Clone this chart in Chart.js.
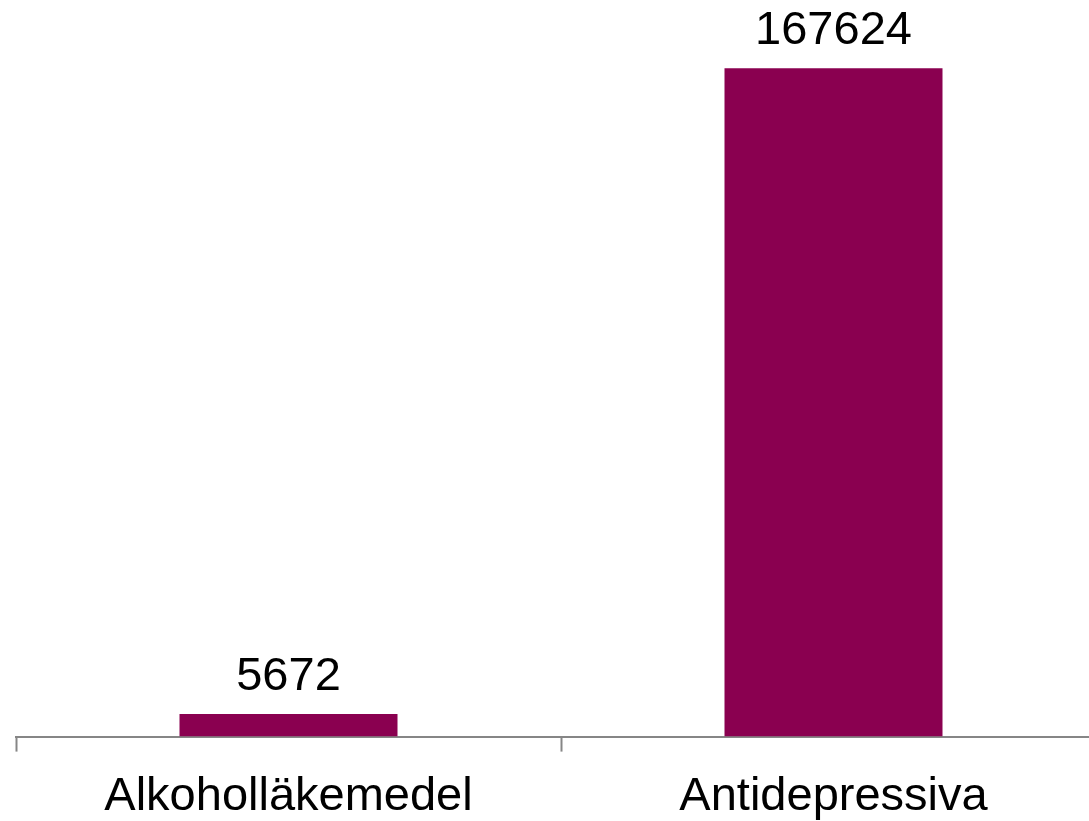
<!DOCTYPE html>
<html>
<head>
<meta charset="utf-8">
<script src="https://cdn.jsdelivr.net/npm/chart.js@4/dist/chart.umd.min.js"></script>
<style>
  html, body { margin: 0; padding: 0; background: #ffffff; overflow: hidden; }
  #wrap { position: relative; width: 1106px; height: 843px; }
</style>
</head>
<body>
<div id="wrap"><canvas id="chart"></canvas></div>
<script>
// Categories and values
const categories = ['Alkoholläkemedel', 'Antidepressiva'];
const values = [5672, 167624];

const barColor = '#8A0050';
const fontFamily = '"Liberation Sans", Arial, sans-serif';

// Writes each bar's value centred above it
const valueLabels = {
  id: 'valueLabels',
  afterDatasetsDraw(chart) {
    const ctx = chart.ctx;
    const meta = chart.getDatasetMeta(0);
    ctx.save();
    ctx.font = '47px ' + fontFamily;
    ctx.fillStyle = '#000000';
    ctx.textAlign = 'center';
    ctx.textBaseline = 'alphabetic';
    meta.data.forEach((bar, i) => {
      ctx.fillText(String(values[i]), bar.x, bar.y - 24);
    });
    ctx.restore();
  }
};

new Chart(document.getElementById('chart'), {
  type: 'bar',
  data: {
    labels: categories,
    datasets: [{
      data: values,
      backgroundColor: barColor,
      borderWidth: 0,
      categoryPercentage: 0.4,
      barPercentage: 1.0
    }]
  },
  options: {
    responsive: true,
    maintainAspectRatio: false,
    animation: false,
    layout: { padding: { left: 16, right: 0, top: 19, bottom: 1 } },
    plugins: { legend: { display: false }, tooltip: { enabled: false } },
    scales: {
      x: {
        offset: true,
        grid: {
          offset: true,
          drawOnChartArea: false,
          drawTicks: true,
          tickLength: 15,
          tickWidth: 2,
          tickColor: '#868686'
        },
        border: { display: true, color: '#868686', width: 2 },
        ticks: {
          color: '#000000',
          padding: 17,
          font: { family: fontFamily, size: 47, lineHeight: 1.2 }
        }
      },
      y: {
        display: false,
        min: 0,
        max: 180000
      }
    }
  },
  plugins: [valueLabels]
});
</script>
</body>
</html>
